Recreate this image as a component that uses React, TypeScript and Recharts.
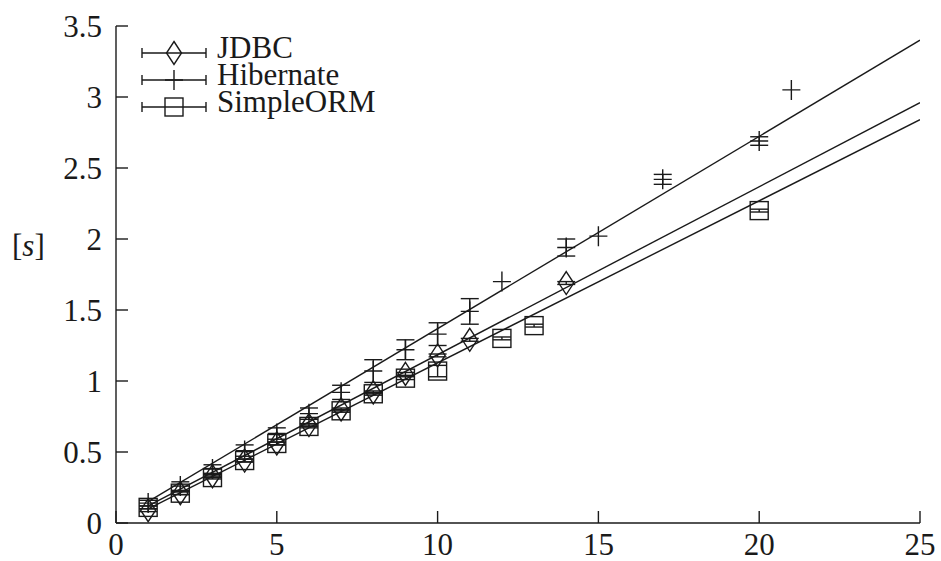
import { ScatterChart, Scatter, XAxis, YAxis, ErrorBar } from 'recharts';

const INK = '#1a1a1a';
const FONT = "'Liberation Serif', 'DejaVu Serif', 'Noto Serif', serif";

const jdbcX = [1, 2, 3, 4, 5, 6, 7, 8, 9, 10, 11, 14];
const jdbcY = [0.09, 0.21, 0.33, 0.44, 0.56, 0.69, 0.8, 0.92, 1.05, 1.18, 1.29, 1.69];
const jdbcErr = [0.01, 0.01, 0.01, 0.01, 0.01, 0.01, 0.01, 0.01, 0.01, 0.01, 0.01, 0.01];

const hibX = [1, 2, 3, 4, 5, 6, 7, 8, 9, 10, 11, 12, 14, 15, 17, 20, 21];
const hibY = [0.14, 0.26, 0.38, 0.51, 0.63, 0.77, 0.92, 1.07, 1.22, 1.33, 1.49, 1.7, 1.94, 2.02, 2.42, 2.69, 3.05];
const hibErr = [0.02, 0.03, 0.03, 0.04, 0.04, 0.04, 0.05, 0.08, 0.07, 0.08, 0.09, 0, 0.06, 0, 0.035, 0.03, 0];

const ormX = [1, 2, 3, 4, 5, 6, 7, 8, 9, 10, 12, 13, 20];
const ormY = [0.11, 0.21, 0.32, 0.44, 0.56, 0.68, 0.79, 0.91, 1.02, 1.07, 1.3, 1.39, 2.2];
const ormErr = [0.01, 0.01, 0.01, 0.01, 0.01, 0.01, 0.01, 0.01, 0.01, 0.04, 0.01, 0.01, 0.01];

// fitted lines, end points
const fitX = [1, 25];
const fitHibY = [0.15, 3.4];
const fitJdbcY = [0.12, 2.96];
const fitOrmY = [0.1, 2.84];

const xTicks = [0, 5, 10, 15, 20, 25];
const yTicks = [0, 0.5, 1, 1.5, 2, 2.5, 3, 3.5];
const seriesNames = ['JDBC', 'Hibernate', 'SimpleORM'];

const zip = (xs: number[], ys: number[], es?: number[]) =>
  xs.map((x, i) => ({ x, y: ys[i], err: es ? es[i] : 0 }));

const jdbc = zip(jdbcX, jdbcY, jdbcErr);
const hib = zip(hibX, hibY, hibErr);
const orm = zip(ormX, ormY, ormErr);
const fitHib = zip(fitX, fitHibY);
const fitJdbc = zip(fitX, fitJdbcY);
const fitOrm = zip(fitX, fitOrmY);

const SW = 1.4;
const TICK = 12;
const textStyle = { fontFamily: FONT, fontSize: 31 };

const Diamond = ({ cx, cy }: any) => (
  <path
    d={`M${cx},${cy - 11.5} L${cx + 7.5},${cy} L${cx},${cy + 11.5} L${cx - 7.5},${cy} Z`}
    fill="none"
    stroke={INK}
    strokeWidth={SW}
  />
);

const Plus = ({ cx, cy }: any) => (
  <path d={`M${cx - 9},${cy} H${cx + 9} M${cx},${cy - 10} V${cy + 10}`} stroke={INK} strokeWidth={SW} fill="none" />
);

const Square = ({ cx, cy }: any) => (
  <rect x={cx - 9} y={cy - 9} width={18} height={18} fill="none" stroke={INK} strokeWidth={SW} />
);

const NoDot = () => <g />;

const BottomTick = ({ x, y, payload }: any) => (
  <g>
    <line x1={x} x2={x} y1={y} y2={y - TICK} stroke={INK} strokeWidth={SW} />
    <text x={x} y={y + 32} textAnchor="middle" style={textStyle} fill={INK}>
      {payload.value}
    </text>
  </g>
);

const LeftTick = ({ x, y, payload }: any) => (
  <g>
    <line x1={x} x2={x + TICK} y1={y} y2={y} stroke={INK} strokeWidth={SW} />
    <text x={x - 14} y={y} dy="0.34em" textAnchor="end" style={textStyle} fill={INK}>
      {payload.value}
    </text>
  </g>
);

const TopTick = ({ x, y }: any) => (
  <line x1={x} x2={x} y1={y} y2={y + TICK} stroke={INK} strokeWidth={SW} />
);

const RightTick = ({ x, y }: any) => (
  <line x1={x} x2={x - TICK} y1={y} y2={y} stroke={INK} strokeWidth={SW} />
);

const markers = [Diamond, Plus, Square];

function LegendBox() {
  return (
    <svg width={420} height={130} style={{ position: 'absolute', left: 0, top: 0 }}>
      {seriesNames.map((name, i) => {
        const base = 58 + i * 27;
        const my = base - 5;
        const M = markers[i];
        return (
          <g key={name}>
            <path
              d={`M142,${my} H206 M142,${my - 5} V${my + 5} M206,${my - 5} V${my + 5}`}
              stroke={INK}
              strokeWidth={SW}
              fill="none"
            />
            <M cx={174} cy={my} />
            <text x={217} y={base} style={textStyle} fill={INK}>
              {name}
            </text>
          </g>
        );
      })}
    </svg>
  );
}

export default function App() {
  return (
    <div style={{ position: 'absolute', left: 0, top: 0, width: 941, height: 561, background: '#fff', fontFamily: FONT }}>
      <ScatterChart width={941} height={561} margin={{ top: 26, right: 21, left: 0, bottom: 0 }}>
        <XAxis
          dataKey="x"
          type="number"
          domain={[0, 25]}
          ticks={xTicks}
          height={38}
          tickSize={0}
          tickMargin={0}
          tick={<BottomTick />}
          axisLine={{ stroke: INK, strokeWidth: SW }}
          allowDataOverflow
        />
        <XAxis
          xAxisId="top"
          orientation="top"
          dataKey="x"
          type="number"
          domain={[0, 25]}
          ticks={xTicks}
          height={0}
          tickSize={0}
          tickMargin={0}
          tick={<TopTick />}
          axisLine={{ stroke: INK, strokeWidth: SW }}
          allowDataOverflow
        />
        <YAxis
          dataKey="y"
          type="number"
          domain={[0, 3.5]}
          ticks={yTicks}
          width={116}
          tickSize={0}
          tickMargin={0}
          tick={<LeftTick />}
          axisLine={{ stroke: INK, strokeWidth: SW }}
          allowDataOverflow
          label={{
            content: () => (
              <text x={12} y={256} style={textStyle} fill={INK}>
                [<tspan fontStyle="italic">s</tspan>]
              </text>
            ),
          }}
        />
        <YAxis
          yAxisId="right"
          orientation="right"
          dataKey="y"
          type="number"
          domain={[0, 3.5]}
          ticks={yTicks}
          width={0}
          tickSize={0}
          tickMargin={0}
          tick={<RightTick />}
          axisLine={{ stroke: INK, strokeWidth: SW }}
          allowDataOverflow
        />
        <Scatter data={fitHib} line={{ stroke: INK, strokeWidth: SW }} shape={<NoDot />} isAnimationActive={false} />
        <Scatter data={fitJdbc} line={{ stroke: INK, strokeWidth: SW }} shape={<NoDot />} isAnimationActive={false} />
        <Scatter data={fitOrm} line={{ stroke: INK, strokeWidth: SW }} shape={<NoDot />} isAnimationActive={false} />
        <Scatter name="SimpleORM" data={orm} shape={<Square />} isAnimationActive={false}>
          <ErrorBar dataKey="err" direction="y" width={9} stroke={INK} strokeWidth={SW} isAnimationActive={false} />
        </Scatter>
        <Scatter name="JDBC" data={jdbc} shape={<Diamond />} isAnimationActive={false}>
          <ErrorBar dataKey="err" direction="y" width={9} stroke={INK} strokeWidth={SW} isAnimationActive={false} />
        </Scatter>
        <Scatter name="Hibernate" data={hib} shape={<Plus />} isAnimationActive={false}>
          <ErrorBar dataKey="err" direction="y" width={9} stroke={INK} strokeWidth={SW} isAnimationActive={false} />
        </Scatter>
      </ScatterChart>
      <LegendBox />
    </div>
  );
}
